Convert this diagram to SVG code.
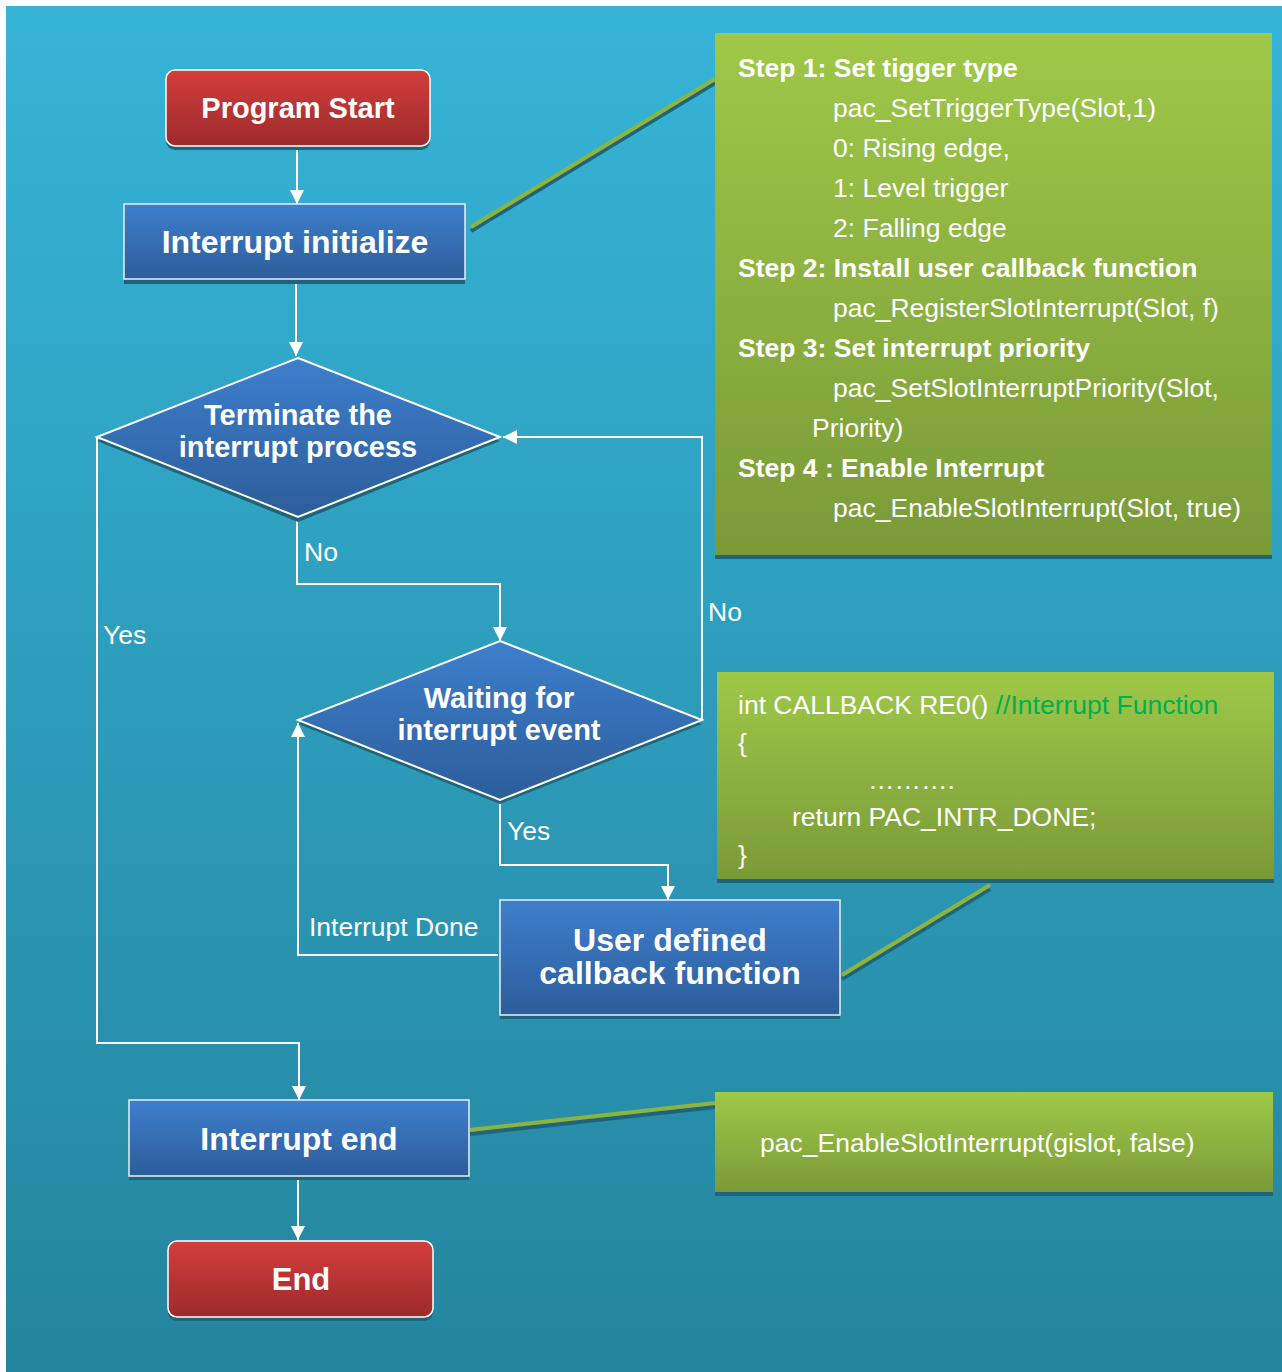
<svg xmlns="http://www.w3.org/2000/svg" width="1282" height="1372" viewBox="0 0 1282 1372">
<defs>
<linearGradient id="bg" x1="0" y1="0" x2="0" y2="1"><stop offset="0" stop-color="#36b4d8"/><stop offset="1" stop-color="#24859e"/></linearGradient>
<linearGradient id="red" x1="0" y1="0" x2="0" y2="1"><stop offset="0" stop-color="#d23e3b"/><stop offset="1" stop-color="#9e2a2c"/></linearGradient>
<linearGradient id="blue" x1="0" y1="0" x2="0" y2="1"><stop offset="0" stop-color="#3d7fcd"/><stop offset="1" stop-color="#2d5d9a"/></linearGradient>
<linearGradient id="green" x1="0" y1="0" x2="0" y2="1"><stop offset="0" stop-color="#9fc848"/><stop offset="1" stop-color="#7a9a38"/></linearGradient>
<marker id="arr" viewBox="0 0 10 10" refX="10" refY="5" markerWidth="14" markerHeight="16" markerUnits="userSpaceOnUse" orient="auto"><path d="M0,0 L10,5 L0,10 z" fill="#fff"/></marker>
</defs>
<style>
.shadow{fill:#1f6478}
.nodeR{fill:url(#red);stroke:#fff;stroke-width:1.5}
.nodeB{fill:url(#blue);stroke:#e8f0f8;stroke-width:1.5}
.dia{fill:url(#blue);stroke:#fff;stroke-width:2}
.note{fill:url(#green)}
.t{font-family:"Liberation Sans",Arial,sans-serif;fill:#fff}
.tb{font-family:"Liberation Sans",Arial,sans-serif;font-weight:bold;fill:#fff;text-anchor:middle}
.conn{fill:none;stroke:#fff;stroke-width:2}
.link{stroke:#8cb43f;stroke-width:4;fill:none}
.linkS{stroke:#1f6478;stroke-width:4;fill:none}
</style>
<rect x="0" y="0" width="1282" height="1372" fill="#fff"/>
<rect x="6" y="6" width="1276" height="1366" fill="url(#bg)"/>

<g id="links">
<line class="linkS" x1="471" y1="231" x2="715" y2="83"/>
<line class="link" x1="471" y1="227" x2="715" y2="79"/>
<line class="linkS" x1="842" y1="979" x2="990" y2="889"/>
<line class="link" x1="842" y1="975" x2="990" y2="885"/>
<line class="linkS" x1="470" y1="1134" x2="715" y2="1107"/>
<line class="link" x1="470" y1="1130" x2="715" y2="1103"/>
</g>

<g id="connectors">
<line class="conn" x1="297" y1="147" x2="297" y2="204" marker-end="url(#arr)"/>
<line class="conn" x1="296" y1="284" x2="296" y2="356" marker-end="url(#arr)"/>
<polyline class="conn" points="297,518 297,584 500,584 500,641" marker-end="url(#arr)"/>
<polyline class="conn" points="702,720 702,437 503,437" marker-end="url(#arr)"/>
<polyline class="conn" points="97,437 97,1043 299,1043 299,1100" marker-end="url(#arr)"/>
<polyline class="conn" points="500,800 500,865 668,865 668,900" marker-end="url(#arr)"/>
<polyline class="conn" points="498,955 298,955 298,723" marker-end="url(#arr)"/>
<line class="conn" x1="298" y1="1180" x2="298" y2="1240" marker-end="url(#arr)"/>
<text class="t" x="304" y="561" font-size="26.5">No</text>
<text class="t" x="708" y="621" font-size="26.5">No</text>
<text class="t" x="103" y="644" font-size="26.5">Yes</text>
<text class="t" x="507" y="840" font-size="26.5">Yes</text>
<text class="t" x="309" y="936" font-size="26.5">Interrupt Done</text>
</g>

<g id="program-start">
<rect class="shadow" x="166" y="74" width="264" height="76" rx="9"/>
<rect class="nodeR" x="166" y="70" width="264" height="76" rx="9"/>
<text class="tb" x="298" y="118" font-size="29">Program Start</text>
</g>

<g id="interrupt-initialize">
<rect class="shadow" x="124" y="208" width="341" height="76"/>
<rect class="nodeB" x="124" y="204" width="341" height="75"/>
<text class="tb" x="295" y="253" font-size="32">Interrupt initialize</text>
</g>

<g id="terminate">
<polygon class="shadow" points="298,362 500,441 298,522 97,441"/>
<polygon class="dia" points="298,358 500,437 298,517 97,437"/>
<text class="tb" x="298" y="425" font-size="29">Terminate the</text>
<text class="tb" x="298" y="457" font-size="29">interrupt process</text>
</g>

<g id="waiting">
<polygon class="shadow" points="500,645 702,724 500,804 298,724"/>
<polygon class="dia" points="500,641 702,720 500,800 298,720"/>
<text class="tb" x="499" y="708" font-size="29">Waiting for</text>
<text class="tb" x="499" y="740" font-size="29">interrupt event</text>
</g>

<g id="callback">
<rect class="shadow" x="500" y="904" width="340" height="115"/>
<rect class="nodeB" x="500" y="900" width="340" height="115"/>
<text class="tb" x="670" y="951" font-size="32">User defined</text>
<text class="tb" x="670" y="984" font-size="32">callback function</text>
</g>

<g id="interrupt-end">
<rect class="shadow" x="129" y="1104" width="340" height="76"/>
<rect class="nodeB" x="129" y="1100" width="340" height="76"/>
<text class="tb" x="299" y="1150" font-size="32">Interrupt end</text>
</g>

<g id="end">
<rect class="shadow" x="168" y="1245" width="265" height="76" rx="9"/>
<rect class="nodeR" x="168" y="1241" width="265" height="76" rx="9"/>
<text class="tb" x="301" y="1290" font-size="31">End</text>
</g>

<g id="note-steps">
<rect class="shadow" x="715" y="37" width="557" height="522"/>
<rect class="note" x="715" y="33" width="557" height="522"/>
<g class="t" font-size="26.5">
<text x="738" y="77" font-weight="bold">Step 1: Set tigger type</text>
<text x="833" y="117">pac_SetTriggerType(Slot,1)</text>
<text x="833" y="157">0: Rising edge,</text>
<text x="833" y="197">1: Level trigger</text>
<text x="833" y="237">2: Falling edge</text>
<text x="738" y="277" font-weight="bold">Step 2: Install user callback function</text>
<text x="833" y="317">pac_RegisterSlotInterrupt(Slot, f)</text>
<text x="738" y="357" font-weight="bold">Step 3: Set interrupt priority</text>
<text x="833" y="397">pac_SetSlotInterruptPriority(Slot,</text>
<text x="812" y="437">Priority)</text>
<text x="738" y="477" font-weight="bold">Step 4 : Enable Interrupt</text>
<text x="833" y="517">pac_EnableSlotInterrupt(Slot, true)</text>
</g>
</g>

<g id="note-callback">
<rect class="shadow" x="717" y="676" width="557" height="207"/>
<rect class="note" x="717" y="672" width="557" height="207"/>
<g class="t" font-size="26.5">
<text x="738" y="714">int CALLBACK RE0() <tspan fill="#00b050">//Interrupt Function</tspan></text>
<text x="738" y="752">{</text>
<text x="868" y="789">……….</text>
<text x="792" y="826">return PAC_INTR_DONE;</text>
<text x="738" y="864">}</text>
</g>
</g>

<g id="note-end">
<rect class="shadow" x="715" y="1096" width="558" height="100"/>
<rect class="note" x="715" y="1092" width="558" height="100"/>
<text class="t" x="760" y="1152" font-size="26.5">pac_EnableSlotInterrupt(gislot, false)</text>
</g>
</svg>
